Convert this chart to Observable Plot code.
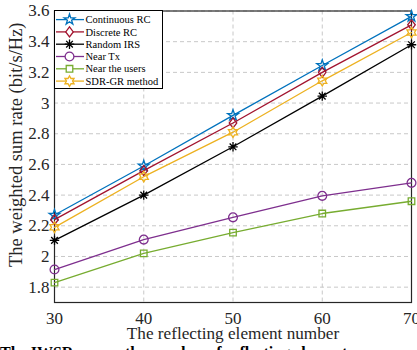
<!DOCTYPE html>
<html><head><meta charset="utf-8">
<script src="https://cdn.jsdelivr.net/npm/d3@7"></script>
<script src="https://cdn.jsdelivr.net/npm/@observablehq/plot@0.6"></script>
<style>
html,body{margin:0;padding:0;background:#fff;overflow:hidden;}
#wrap{position:relative;width:417px;height:350px;overflow:hidden;}
#wrap svg{overflow:visible;}
#legend{position:absolute;left:54px;top:10px;}
#caption{position:absolute;left:0;top:345px;font:bold 16px "Liberation Serif",serif;line-height:16px;white-space:nowrap;color:#000;}
</style></head><body><div id="wrap"><div id="chart"></div><svg id="legend"></svg><div id="caption"></div></div>
<script>
// ---- data ----
const elementNumbers = [30, 40, 50, 60, 70];
const seriesNames = ["Continuous RC", "Discrete RC", "Random IRS", "Near Tx", "Near the users", "SDR-GR method"];
const continuousRC = [2.27, 2.59, 2.92, 3.245, 3.565];
const discreteRC   = [2.24, 2.56, 2.87, 3.20, 3.51];
const randomIRS    = [2.105, 2.40, 2.715, 3.045, 3.38];
const nearTx       = [1.915, 2.11, 2.255, 2.395, 2.48];
const nearUsers    = [1.83, 2.02, 2.155, 2.28, 2.36];
const sdrGR        = [2.19, 2.52, 2.81, 3.145, 3.46];
const xTicks = [30, 40, 50, 60, 70];
const yTicks = [1.8, 2, 2.2, 2.4, 2.6, 2.8, 3, 3.2, 3.4, 3.6];
const xLabel = "The reflecting element number";
const yLabel = "The weighted sum rate (bit/s/Hz)";
const captionText = "The IWSR versus the number of reflecting elements";

// ---- styles ----
const seriesValues = [continuousRC, discreteRC, randomIRS, nearTx, nearUsers, sdrGR];
const seriesColors = ["#0072BD", "#A2142F", "#000000", "#7E2F8E", "#77AC30", "#EDB120"];

function starPoly(n, outer, inner) {
  return {draw(ctx, size) {
    const r = Math.sqrt(size / Math.PI);
    const R = r * outer, Ri = r * inner;
    for (let i = 0; i < 2 * n; i++) {
      const a = -Math.PI / 2 + i * Math.PI / n;
      const rr = i % 2 ? Ri : R;
      const x = rr * Math.cos(a), y = rr * Math.sin(a);
      i ? ctx.lineTo(x, y) : ctx.moveTo(x, y);
    }
    ctx.closePath();
  }};
}
const pentagram = starPoly(5, 1.35, 0.52);
const hexagram = starPoly(6, 1.25, 0.72);
const diamond = {draw(ctx, size) {
  const r = Math.sqrt(size / Math.PI);
  ctx.moveTo(0, -r * 1.2); ctx.lineTo(r * 0.9, 0); ctx.lineTo(0, r * 1.2); ctx.lineTo(-r * 0.9, 0); ctx.closePath();
}};
const asterisk8 = {draw(ctx, size) {
  const r = Math.sqrt(size / Math.PI) * 1.05;
  for (let i = 0; i < 4; i++) {
    const a = i * Math.PI / 4;
    ctx.moveTo(r * Math.cos(a), r * Math.sin(a));
    ctx.lineTo(-r * Math.cos(a), -r * Math.sin(a));
  }
}};
const circle = {draw(ctx, size) {
  const r = Math.sqrt(size / Math.PI);
  ctx.moveTo(r, 0); ctx.arc(0, 0, r, 0, 2 * Math.PI);
}};
const square = {draw(ctx, size) {
  const r = Math.sqrt(size / Math.PI) * 0.78;
  ctx.rect(-r, -r, 2 * r, 2 * r);
}};
const seriesSymbols = [pentagram, diamond, asterisk8, circle, square, hexagram];
const seriesR = [4.2, 4.2, 4.5, 4.4, 4.2, 4.2];

const rows = [];
seriesNames.forEach((name, i) => elementNumbers.forEach((x, j) => rows.push({series: name, x, y: seriesValues[i][j]})));

const font = '"Liberation Serif", "Times New Roman", serif';
const marks = [
  Plot.gridX(xTicks, {stroke: "#c8c8c8", strokeOpacity: 1, strokeDasharray: "4,3"}),
  Plot.gridY(yTicks, {stroke: "#c8c8c8", strokeOpacity: 1, strokeDasharray: "4,3"}),
  Plot.axisX(xTicks, {tickSize: 0, tickPadding: 9.5, fontSize: 17, label: null, fill: "#262626"}),
  Plot.axisY(yTicks, {tickSize: 0, tickPadding: 5, fontSize: 17, tickFormat: d => String(d), label: null, fill: "#262626"}),
  Plot.text([xLabel], {frameAnchor: "bottom", textAnchor: "middle", dy: 36.5, fontSize: 17.2, fill: "#262626"}),
  Plot.text([yLabel], {frameAnchor: "left", textAnchor: "middle", rotate: -90, dx: -38, dy: -12, fontSize: 18.5, fill: "#262626"}),
  Plot.frame({stroke: "#262626", strokeWidth: 1.2})
];
seriesNames.forEach((name, i) => {
  const d = rows.filter(r => r.series === name);
  marks.push(Plot.line(d, {x: "x", y: "y", stroke: seriesColors[i], strokeWidth: 1.3}));
  marks.push(Plot.dot(d, {x: "x", y: "y", stroke: seriesColors[i], fill: "none", strokeWidth: 1.3, symbol: seriesSymbols[i], r: seriesR[i]}));
});

const chart = Plot.plot({
  width: 417, height: 343,
  marginLeft: 54, marginRight: 6, marginTop: 10.5, marginBottom: 41,
  style: {fontFamily: font, background: "#fff", overflow: "visible"},
  x: {domain: [30, 70]},
  y: {domain: [1.7, 3.6]},
  marks
});
document.getElementById("chart").appendChild(chart);

// ---- legend ----
const lg = d3.select("#legend").attr("width", 109).attr("height", 79);
lg.append("rect").attr("x", 0.5).attr("y", 0.5).attr("width", 108).attr("height", 78).attr("fill", "#fff").attr("stroke", "#000").attr("stroke-width", 1);
seriesNames.forEach((name, i) => {
  const y = 9.6 + i * 12.3;
  lg.append("line").attr("x1", 2).attr("x2", 30).attr("y1", y).attr("y2", y).attr("stroke", seriesColors[i]).attr("stroke-width", 1.3);
  lg.append("path").attr("transform", `translate(15.5,${y})`)
    .attr("d", d3.symbol(seriesSymbols[i], Math.PI * seriesR[i] * seriesR[i])())
    .attr("fill", "#fff").attr("stroke", seriesColors[i]).attr("stroke-width", 1.3);
  lg.append("text").attr("x", 31.5).attr("y", y).attr("dy", "0.35em").attr("font-family", font).attr("font-size", 10.5).attr("fill", "#000").text(name);
});
document.getElementById("caption").textContent = captionText;
</script></body></html>
